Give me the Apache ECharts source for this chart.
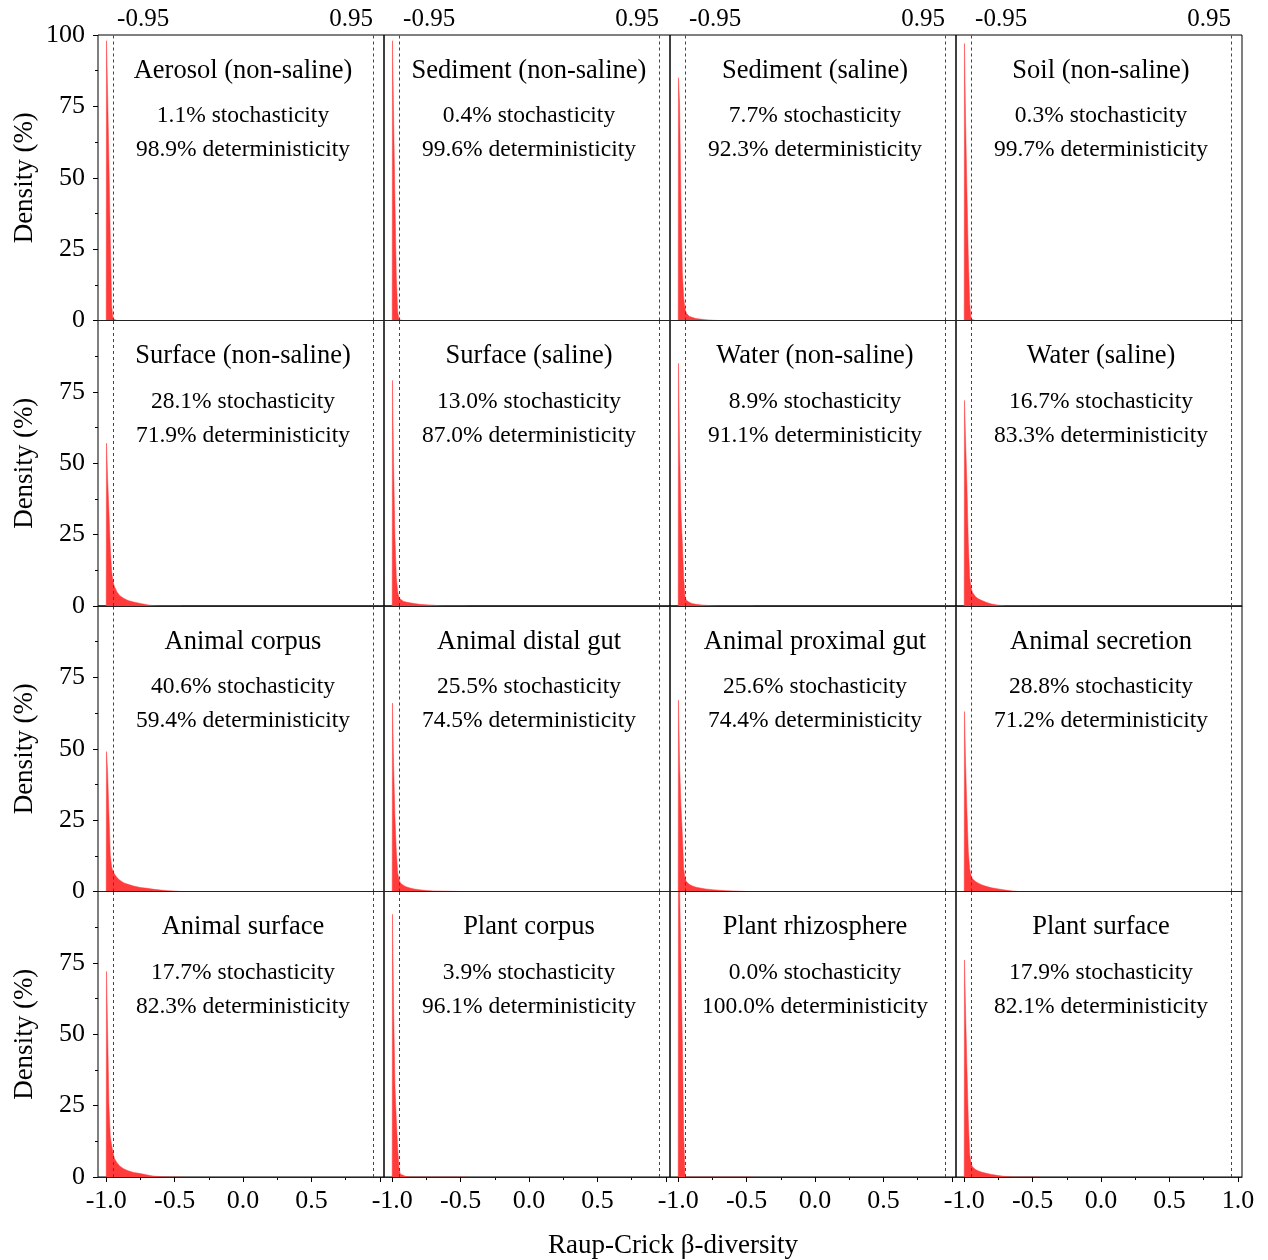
<!DOCTYPE html>
<html>
<head>
<meta charset="utf-8">
<script src="https://cdn.jsdelivr.net/npm/echarts@6/dist/echarts.min.js"></script>
<style>
  html, body { margin: 0; padding: 0; background: #fff; }
  #chart { width: 1268px; height: 1260px; }
</style>
</head>
<body>
<div id="chart"></div>
<script>
// x grid shared by all density curves (Raup-Crick beta)
const betaX = [-1.0, -0.998, -0.99, -0.98, -0.97, -0.96, -0.95, -0.94, -0.92, -0.9,
  -0.87, -0.84, -0.8, -0.75, -0.7, -0.65, -0.6, -0.55, -0.5, -0.45]

// density (%) per habitat, one value per betaX
const aerosolNonSaline = [0, 98, 80, 55, 28, 5, 0.5, 0.1, 0, 0, 0, 0, 0, 0, 0, 0, 0, 0, 0, 0]
const sedimentNonSaline = [0, 98, 72, 42, 15, 3, 0.3, 0, 0, 0, 0, 0, 0, 0, 0, 0, 0, 0, 0, 0]
const sedimentSaline = [0, 85, 76, 42, 17, 8, 4, 2.5, 1.5, 1.1, 0.7, 0.5, 0.3, 0.1, 0, 0, 0, 0, 0, 0]
const soilNonSaline = [0, 97, 70, 45, 22, 6, 0.5, 0, 0, 0, 0, 0, 0, 0, 0, 0, 0, 0, 0, 0]
const surfaceNonSaline = [0, 57, 45, 33, 20, 12, 8.5, 6.8, 4.8, 3.6, 2.6, 1.9, 1.4, 0.9, 0.4, 0.1, 0, 0, 0, 0]
const surfaceSaline = [0, 79, 50, 24, 10, 5, 2.8, 2.2, 1.7, 1.4, 1.1, 0.9, 0.6, 0.4, 0.3, 0.05, 0, 0, 0, 0]
const waterNonSaline = [0, 85, 55, 33, 22, 10, 3, 2, 1.3, 0.9, 0.6, 0.4, 0.25, 0.1, 0, 0, 0, 0, 0, 0]
const waterSaline = [0, 72, 58, 42, 22, 10, 6.5, 4.8, 3.4, 2.6, 1.9, 1.3, 0.7, 0.3, 0, 0, 0, 0, 0, 0]
const animalCorpus = [0, 49, 42, 27, 12.5, 8.5, 7, 6.1, 4.8, 3.9, 3.0, 2.5, 1.9, 1.4, 1.1, 0.75, 0.5, 0.3, 0.15, 0]
const animalDistalGut = [0, 66, 45, 26, 14, 6.5, 4, 3.0, 2.2, 1.7, 1.2, 0.9, 0.6, 0.35, 0.2, 0.15, 0.1, 0.05, 0, 0]
const animalProximalGut = [0, 67, 45, 30, 20, 8, 4.5, 3.5, 2.5, 2.0, 1.5, 1.2, 0.9, 0.65, 0.45, 0.3, 0.2, 0.1, 0, 0]
const animalSecretion = [0, 63, 45, 28, 14, 8, 5.5, 4.5, 3.6, 3.0, 2.3, 1.8, 1.3, 0.9, 0.5, 0.2, 0, 0, 0, 0]
const animalSurface = [0, 72, 52, 25, 14, 11, 8.5, 6.5, 4.9, 3.8, 2.8, 2.2, 1.6, 1.2, 0.7, 0.3, 0.1, 0, 0, 0]
const plantCorpus = [0, 92, 60, 32, 20, 10, 3, 1, 0.6, 0.2, 0, 0, 0, 0, 0, 0, 0, 0, 0, 0]
const plantRhizosphere = [0, 125, 102, 75, 48, 15, 0, 0, 0, 0, 0, 0, 0, 0, 0, 0, 0, 0, 0, 0]
const plantSurface = [0, 76, 58, 38, 20, 8, 4.8, 3.6, 2.7, 2.2, 1.7, 1.3, 0.9, 0.5, 0.2, 0, 0, 0, 0, 0]

const habitats = ['Aerosol (non-saline)', 'Sediment (non-saline)', 'Sediment (saline)', 'Soil (non-saline)',
  'Surface (non-saline)', 'Surface (saline)', 'Water (non-saline)', 'Water (saline)',
  'Animal corpus', 'Animal distal gut', 'Animal proximal gut', 'Animal secretion',
  'Animal surface', 'Plant corpus', 'Plant rhizosphere', 'Plant surface']
const densities = [aerosolNonSaline, sedimentNonSaline, sedimentSaline, soilNonSaline,
  surfaceNonSaline, surfaceSaline, waterNonSaline, waterSaline,
  animalCorpus, animalDistalGut, animalProximalGut, animalSecretion,
  animalSurface, plantCorpus, plantRhizosphere, plantSurface]
const stochasticity = [1.1, 0.4, 7.7, 0.3, 28.1, 13.0, 8.9, 16.7, 40.6, 25.5, 25.6, 28.8, 17.7, 3.9, 0.0, 17.9]
const determinism = [98.9, 99.6, 92.3, 99.7, 71.9, 87.0, 91.1, 83.3, 59.4, 74.5, 74.4, 71.2, 82.3, 96.1, 100.0, 82.1]

// |betaRC| thresholds and tick positions
const cutoffs = [-0.95, 0.95]
const xTicks = [-1, -0.5, 0, 0.5, 1]
const xMinorTicks = [-0.75, -0.25, 0.25, 0.75]

// layout
const FONT = 'Liberation Serif, Times New Roman, serif'
const RED = '#ff3b3b'
const plotLeft = 98
const plotTop = 35
const cellW = 286
const cellH = 285.5
const nCols = 4
const nRows = 4

const grid = []
const xAxis = []
const yAxis = []
const series = []
const title = []

habitats.forEach((name, k) => {
  const col = k % nCols
  const row = Math.floor(k / nCols)
  const left = plotLeft + col * cellW
  const top = plotTop + row * cellH
  const isBottom = row === nRows - 1
  const isLeft = col === 0

  grid.push({
    left: left, top: top, width: cellW, height: cellH,
    show: true, borderColor: '#000', borderWidth: 1
  })

  // main x axis (major ticks + labels)
  xAxis.push({
    type: 'value', gridIndex: k, min: -1.06, max: 1.03, z: 5,
    axisLine: { show: true, onZero: false, lineStyle: { color: '#222', width: 1 } },
    axisTick: {
      show: isBottom, customValues: xTicks, length: 5, inside: false,
      lineStyle: { color: '#000' }
    },
    axisLabel: {
      show: isBottom,
      customValues: col === nCols - 1 ? xTicks : xTicks.slice(0, 4),
      formatter: v => v.toFixed(1),
      fontFamily: FONT, fontSize: 26, color: '#000', margin: 11
    },
    splitLine: { show: false }
  })
  // minor ticks
  xAxis.push({
    type: 'value', gridIndex: k, min: -1.06, max: 1.03, position: 'bottom',
    axisLine: { show: false, onZero: false },
    axisTick: {
      show: isBottom, customValues: xMinorTicks, length: 3, inside: false,
      lineStyle: { color: '#000' }
    },
    axisLabel: { show: false },
    splitLine: { show: false }
  })

  yAxis.push({
    type: 'value', gridIndex: k, min: 0, max: 100, interval: 25,
    name: isLeft ? 'Density (%)' : '',
    nameLocation: 'middle', nameGap: 60,
    nameTextStyle: { fontFamily: FONT, fontSize: 27, color: '#000' },
    axisLine: { show: false, onZero: false },
    axisTick: { show: isLeft, length: 5, lineStyle: { color: '#000' } },
    minorTick: { show: isLeft, splitNumber: 2, length: 3, lineStyle: { color: '#000' } },
    axisLabel: {
      show: isLeft,
      formatter: v => (row > 0 && v === 100) ? '' : String(v),
      fontFamily: FONT, fontSize: 26, color: '#000', margin: 13
    },
    splitLine: { show: false },
    minorSplitLine: { show: false }
  })

  const dens = densities[k]
  series.push({
    type: 'line',
    xAxisIndex: k * 2,
    yAxisIndex: k,
    data: betaX.map((x, i) => [x, dens[i]]),
    showSymbol: false,
    symbol: 'none',
    clip: true,
    lineStyle: { width: 0.5, color: RED },
    areaStyle: { color: RED, opacity: 1 },
    markLine: {
      silent: true,
      symbol: 'none',
      lineStyle: { type: [3, 3], color: '#444', width: 1 },
      label: {
        show: row === 0, position: 'end', distance: 3,
        fontFamily: FONT, fontSize: 25, color: '#000'
      },
      data: cutoffs.map(c => [
        {
          coord: [c, 0],
          label: {
            formatter: String(c),
            align: c < 0 ? 'left' : 'right',
            padding: c < 0 ? [0, 0, 0, 4] : [0, 0, 0, 0]
          }
        },
        { coord: [c, 100] }
      ])
    }
  })

  title.push({
    text: name,
    subtext: stochasticity[k].toFixed(1) + '% stochasticity\n' +
      determinism[k].toFixed(1) + '% deterministicity',
    left: left + cellW / 2 + 2,
    top: top + 20,
    textAlign: 'center',
    itemGap: 12,
    padding: 0,
    textStyle: { fontFamily: FONT, fontSize: 26.5, fontWeight: 'normal', color: '#000', lineHeight: 32 },
    subtextStyle: { fontFamily: FONT, fontSize: 23.5, color: '#000', lineHeight: 34 }
  })
})

title.push({
  text: 'Raup-Crick β-diversity',
  left: plotLeft + nCols * cellW / 2 + 3,
  top: 1232,
  textAlign: 'center',
  padding: 0,
  textStyle: { fontFamily: FONT, fontSize: 27, fontWeight: 'normal', color: '#000' }
})

const chart = echarts.init(document.getElementById('chart'))
chart.setOption({
  animation: false,
  backgroundColor: '#fff',
  title: title,
  grid: grid,
  xAxis: xAxis,
  yAxis: yAxis,
  series: series
})
</script>
</body>
</html>
